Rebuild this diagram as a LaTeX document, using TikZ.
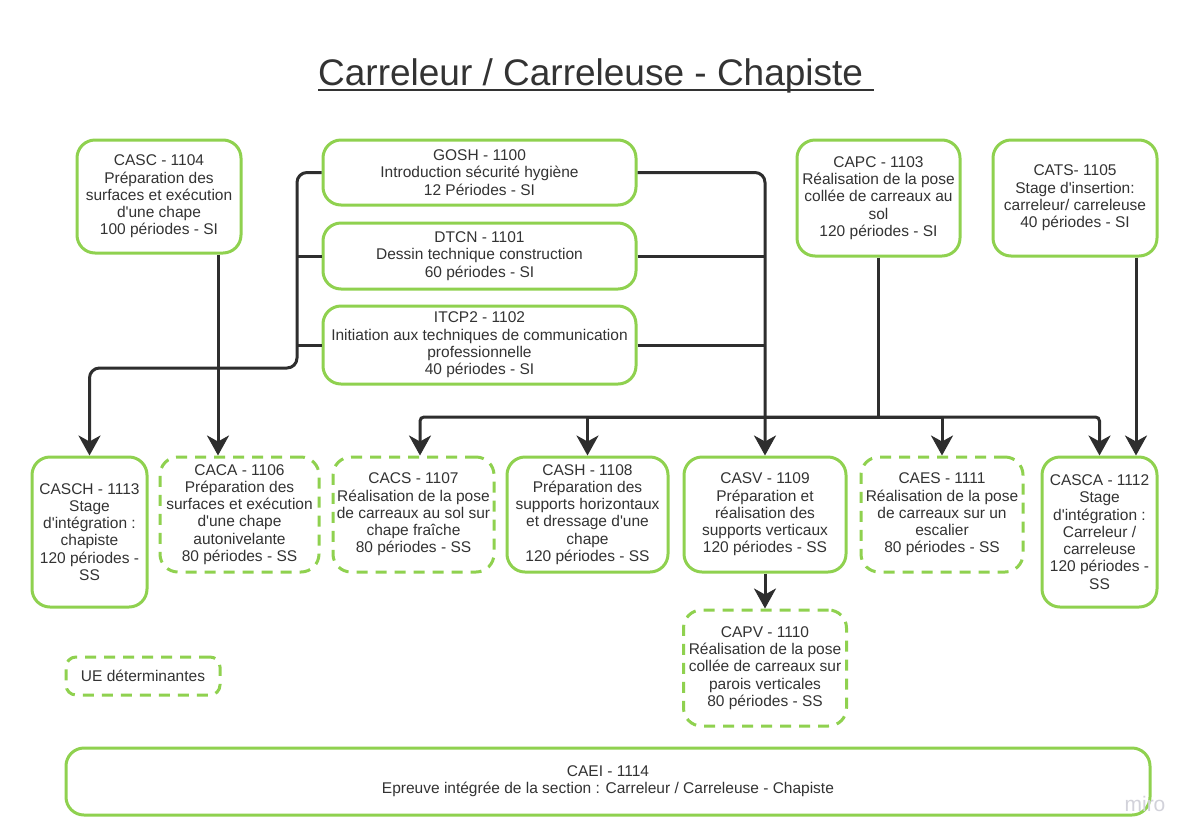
\documentclass[tikz,border=0pt]{standalone}
\usepackage{fontspec}
\setmainfont{Liberation Sans}
\usetikzlibrary{arrows.meta,calc}
\definecolor{uegreen}{HTML}{8FD14F}
\definecolor{lin}{HTML}{2E2E2E}
\definecolor{txt}{HTML}{333333}
\definecolor{wm}{HTML}{D2D2DA}
\newcommand{\q}{\textquotesingle}
\newcommand{\bodyfont}{\fontsize{15.5}{17.3}\selectfont}
\newcommand{\titlefont}{\fontsize{37}{44}\selectfont}
\tikzset{
  uebox/.style={draw=uegreen, line width=3pt, rounded corners=18pt, fill=white,
    align=center, text=txt, font=\bodyfont, inner sep=0pt},
  uedash/.style={uebox, dash pattern=on 11pt off 8pt},
  conn/.style={draw=lin, line width=3pt},
  arr/.style={conn, -{Stealth[length=20pt,width=22pt,inset=6pt]}},
}
\begin{document}
\begin{tikzpicture}[x=1pt,y=-1pt]
\useasboundingbox (0,0) rectangle (1191,839);
\fill[white] (0,0) rectangle (1191,839);

% title
\node[anchor=base west, inner sep=0pt, font=\titlefont, text=txt] (title) at (318,85) {Carreleur / Carreleuse - Chapiste};
\draw[line width=2.2pt, txt] ($(title.base west)+(0,5)$) -- ($(title.base east)+(11,5)$);

% top row
\node[uebox, minimum width=164, minimum height=113] (casc) at (159,196.5)
  {CASC - 1104\\Préparation des\\surfaces et exécution\\d\q une chape\\100 périodes - SI};
\node[uebox, minimum width=313, minimum height=65] (gosh) at (479.5,172.5)
  {GOSH - 1100\\Introduction sécurité hygiène\\12 Périodes - SI};
\node[uebox, minimum width=313, minimum height=66] (dtcn) at (479.5,256)
  {DTCN - 1101\\Dessin technique construction\\60 périodes - SI};
\node[uebox, minimum width=313, minimum height=78] (itcp) at (479.5,345)
  {ITCP2 - 1102\\Initiation aux techniques de communication\\professionnelle\\40 périodes - SI};
\node[uebox, minimum width=163, minimum height=116] (capc) at (878.5,198)
  {CAPC - 1103\\Réalisation de la pose\\collée de carreaux au\\sol\\120 périodes - SI};
\node[uebox, minimum width=164, minimum height=116] (cats) at (1075,198)
  {CATS- 1105\\Stage d\q insertion:\\carreleur/ carreleuse\\40 périodes - SI};

% bottom row
\node[uebox, minimum width=115, minimum height=150] (casch) at (89.5,532)
  {CASCH - 1113\\Stage\\d\q intégration :\\chapiste\\120 périodes -\\SS};
\node[uedash, minimum width=159, minimum height=115] (caca) at (239.5,514.5)
  {CACA - 1106\\Préparation des\\surfaces et exécution\\d\q une chape\\autonivelante\\80 périodes - SS};
\node[uedash, minimum width=161, minimum height=115] (cacs) at (413.5,514.5)
  {CACS - 1107\\Réalisation de la pose\\de carreaux au sol sur\\chape fraîche\\80 périodes - SS};
\node[uebox, minimum width=161, minimum height=115] (cash) at (587.5,514.5)
  {CASH - 1108\\Préparation des\\supports horizontaux\\et dressage d\q une\\chape\\120 périodes - SS};
\node[uebox, minimum width=162, minimum height=115] (casv) at (765,514.5)
  {CASV - 1109\\Préparation et\\réalisation des\\supports verticaux\\120 périodes - SS};
\node[uedash, minimum width=162, minimum height=115] (caes) at (942,514.5)
  {CAES - 1111\\Réalisation de la pose\\de carreaux sur un\\escalier\\80 périodes - SS};
\node[uebox, minimum width=115, minimum height=150] (casca) at (1099.5,532)
  {CASCA - 1112\\Stage\\d\q intégration :\\Carreleur /\\carreleuse\\120 périodes -\\SS};
\node[uedash, minimum width=163, minimum height=116] (capv) at (765,668)
  {CAPV - 1110\\Réalisation de la pose\\collée de carreaux sur\\parois verticales\\80 périodes - SS};

\node[uedash, minimum width=154, minimum height=38, rounded corners=10pt] (ue) at (143,676) {UE déterminantes};
\node[uebox, minimum width=1084, minimum height=67] (caei) at (608,781.5)
  {CAEI - 1114\\Epreuve intégrée de la section : Carreleur / Carreleuse - Chapiste};

% connectors
\coordinate (lb) at (297,368);
\coordinate (bus) at (878.5,417);

\draw[arr] ($(casc.south)+(59,0)$) -- ($(caca.north)+(-21.5,0)$);

\draw[arr, rounded corners=10pt] (gosh.west) -- (gosh.west -| lb) -- (lb) -| (casch.north);
\draw[conn] (dtcn.west) -- (dtcn.west -| lb);
\draw[conn] (itcp.west) -- (itcp.west -| lb);

\draw[arr, rounded corners=10pt] (gosh.east) -| (casv.north);
\draw[conn] (dtcn.east) -- (dtcn.east -| casv.north);
\draw[conn] (itcp.east) -- (itcp.east -| casv.north);

\draw[conn] (capc.south) -- (bus);
\draw[arr, rounded corners=4pt] (bus) -| ($(cacs.north)+(6.5,0)$);
\draw[arr] (bus) -| (cash.north);
\draw[arr] (bus) -| (caes.north);
\draw[arr, rounded corners=4pt] (bus) -| (casca.north);

\draw[arr] ($(cats.south)+(61,0)$) -- ($(casca.north)+(36.5,0)$);
\draw[arr] (casv.south) -- (capv.north);

% watermark
\node[text=wm, font=\fontsize{21}{23}\selectfont, inner sep=0pt] (miro) at (1145,804) {miro};
\end{tikzpicture}
\end{document}
